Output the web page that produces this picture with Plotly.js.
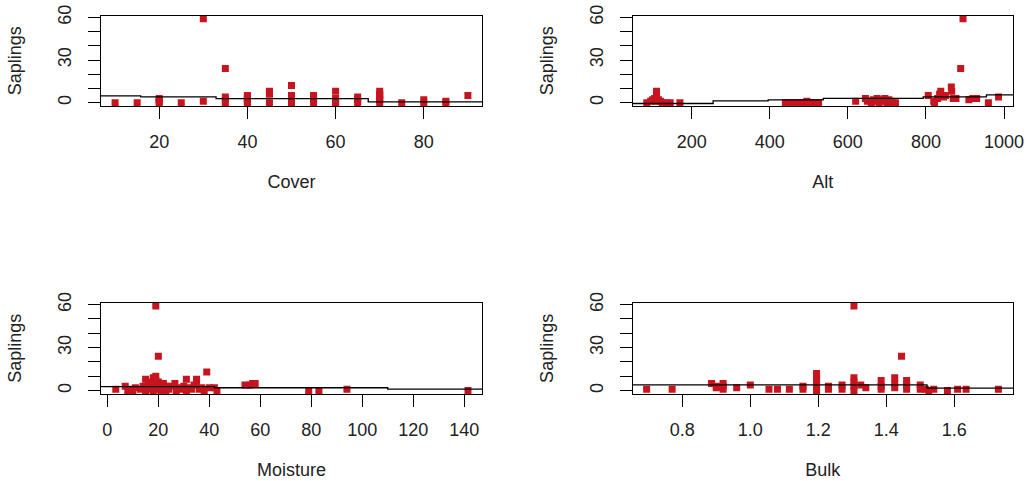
<!DOCTYPE html>
<html>
<head>
<meta charset="utf-8">
<script src="https://cdn.plot.ly/plotly-3.0.1.min.js"></script>
<style>
  html, body { margin: 0; padding: 0; background: #ffffff; }
  #chart { width: 1026px; height: 481px; }
</style>
</head>
<body>
<div id="chart"></div>
<script>
// ---------- data ----------
const yTickVals = [0, 10, 20, 30, 40, 50, 60];
const yTickText = ['0', '', '', '30', '', '', '60'];

const coverX = [10,15,20,20,20,20,25,30,30,35,35,35,35,40,40,40,40,40,40,45,45,45,45,50,50,50,50,50,50,55,55,55,55,60,60,60,60,65,65,65,70,70,70,70,70,70,75,80,80,85,85,90];
const coverY = [0,0,0,1,2,3,0,1,59,0,2,4,24,0,1,2,3,4,5,0,6,7,8,0,1,3,4,5,12,0,2,3,5,0,1,3,8,0,2,4,0,2,3,5,6,8,0,0,2,0,1,5];
const coverLineX = [6.8, 15.8, 32.9, 67.4, 93.2];
const coverLineY = [4.7, 4.0, 2.8, 0.6, 0.6];
const coverTicks = [20, 40, 60, 80];

const altX = [85,95,100,105,110,110,110,110,115,120,125,135,145,170,
              440,450,465,475,485,495,500,505,515,525,
              620,645,650,660,665,670,675,680,685,690,695,700,705,710,715,722,
              806,820,822,830,835,838,845,850,865,866,870,877,889,895,910,920,930,960,986];
const altY = [0,1,2,3,4,6,8,1,2,1,0,0,0,0,
              0,0,0,0,0,1,0,0,0,0,
              1,3,1,0,2,1,3,0,2,1,3,0,2,1,0,0,
              5,1,0,3,6,8,4,5,11,8,3,3,24,59,2,3,3,0,4];
const altLineX = [49, 255, 396, 537, 793, 955, 1023];
const altLineY = [-0.6, 1.2, 2.0, 3.0, 4.0, 5.5, 5.5];
const altTicks = [200, 400, 600, 800, 1000];

const moistX = [3.3,7,8,9,10,11,
                13,14,15,15,16,16,17,17,18,18,18,19,19,19,19,20,20,20,21,21,22,22,23,23,24,24,
                25,26.5,27,28,29,30,31,31,32,33,34,35,35,36,37,38,39,40,42,43,
                54,56,57,58,
                79,83,94,141.5];
const moistY = [1,3,0,1,0,2,
                1,3,0,8,2,5,1,6,0,4,9,59,10,3,7,24,1,6,0,4,2,5,0,3,1,2,
                3,5,0,2,1,3,8,0,2,1,4,8,5,1,2,0,13,2,2,0,
                4,4,5,5,
                0,0,1,0];
const moistLineX = [-2.5, 42, 110, 147];
const moistLineY = [2.8, 2.0, 1.0, 1.0];
const moistTicks = [0, 20, 40, 60, 80, 100, 120, 140];

const bulkX = [0.695,0.77,0.886,0.9,0.9,0.92,0.92,0.92,0.96,1.0,1.055,1.08,1.115,1.155,1.155,
               1.195,1.195,1.195,1.195,1.195,1.195,1.23,1.23,1.27,1.27,1.305,1.305,1.305,1.305,1.305,
               1.325,1.34,1.385,1.385,1.385,1.425,1.425,1.425,1.445,1.46,1.46,1.46,1.5,1.5,
               1.515,1.525,1.54,1.58,1.61,1.635,1.73];
const bulkY = [1,1,5,3,2,5,3,1,2,4,1,1,1,3,1,
               12,10,8,5,2,0,3,1,4,1,9,6,3,0,59,
               4,2,7,3,1,9,5,2,24,7,4,1,4,1,
               1,0,1,0,1,1,1];
const bulkLineX = [0.654, 1.52, 1.773];
const bulkLineY = [4.0, 1.7, 1.7];
const bulkTicks = [0.8, 1.0, 1.2, 1.4, 1.6];

const panelTitles = ['Cover', 'Alt', 'Moisture', 'Bulk'];
const yTitle = 'Saplings';

// ---------- styling ----------
const W = 1026, H = 481;
const pointColor = '#c8141e';
const fontFam = 'Liberation Sans, Arial, sans-serif';
const txtColor = '#222222';
const fs = 18;

function pts(x, y, xa, ya) {
  return { x: x, y: y, xaxis: xa, yaxis: ya, type: 'scatter', mode: 'markers',
    marker: { symbol: 'square', size: 7, color: pointColor, line: { width: 0 } },
    hoverinfo: 'x+y', showlegend: false };
}
function fit(x, y, xa, ya) {
  return { x: x, y: y, xaxis: xa, yaxis: ya, type: 'scatter', mode: 'lines',
    line: { color: '#000000', width: 1.3, shape: 'hv' }, hoverinfo: 'skip', showlegend: false };
}

const data = [
  pts(coverX, coverY, 'x', 'y'), fit(coverLineX, coverLineY, 'x', 'y'),
  pts(altX, altY, 'x2', 'y2'), fit(altLineX, altLineY, 'x2', 'y2'),
  pts(moistX, moistY, 'x3', 'y3'), fit(moistLineX, moistLineY, 'x3', 'y3'),
  pts(bulkX, bulkY, 'x4', 'y4'), fit(bulkLineX, bulkLineY, 'x4', 'y4')
];

const leftDom = [101 / W, 482 / W];
const rightDom = [632.7 / W, 1013 / W];
const topDom = [1 - 106 / H, 1 - 15.5 / H];
const botDom = [1 - 394 / H, 1 - 302.7 / H];

function xAxis(dom, range, ticks, title, anchor, fmt) {
  return {
    domain: dom, range: range, anchor: anchor,
    tickvals: ticks, tickformat: fmt || '',
    ticks: 'outside', ticklen: 12, tickwidth: 1, tickcolor: '#000',
    ticklabelstandoff: 7,
    showline: true, mirror: true, linecolor: '#000', linewidth: 1,
    showgrid: false, zeroline: false,
    tickfont: { family: fontFam, size: fs, color: txtColor },
    title: { text: title, standoff: 24, font: { family: fontFam, size: fs, color: txtColor } }
  };
}
function yAxis(dom, anchor) {
  return {
    domain: dom, range: [-2.36, 61.36], anchor: anchor,
    tickvals: yTickVals, ticktext: yTickText, tickangle: -90,
    ticks: 'outside', ticklen: 12, tickwidth: 1, tickcolor: '#000',
    ticklabelstandoff: 10,
    showline: true, mirror: true, linecolor: '#000', linewidth: 1,
    showgrid: false, zeroline: false,
    tickfont: { family: fontFam, size: fs, color: txtColor },
    title: { text: yTitle, standoff: 28, font: { family: fontFam, size: fs, color: txtColor } }
  };
}

const layout = {
  width: W, height: H,
  margin: { l: 0, r: 0, t: 0, b: 0 },
  paper_bgcolor: '#ffffff', plot_bgcolor: '#ffffff',
  showlegend: false,
  xaxis:  xAxis(leftDom,  [6.8, 93.2],    coverTicks, panelTitles[0], 'y'),
  yaxis:  yAxis(topDom, 'x'),
  xaxis2: xAxis(rightDom, [49, 1023],     altTicks,   panelTitles[1], 'y2'),
  yaxis2: yAxis(topDom, 'x2'),
  xaxis3: xAxis(leftDom,  [-2.5, 147],    moistTicks, panelTitles[2], 'y3'),
  yaxis3: yAxis(botDom, 'x3'),
  xaxis4: xAxis(rightDom, [0.654, 1.773], bulkTicks,  panelTitles[3], 'y4', '.1f'),
  yaxis4: yAxis(botDom, 'x4')
};

Plotly.newPlot('chart', data, layout, { displayModeBar: false, staticPlot: true });
</script>
</body>
</html>
